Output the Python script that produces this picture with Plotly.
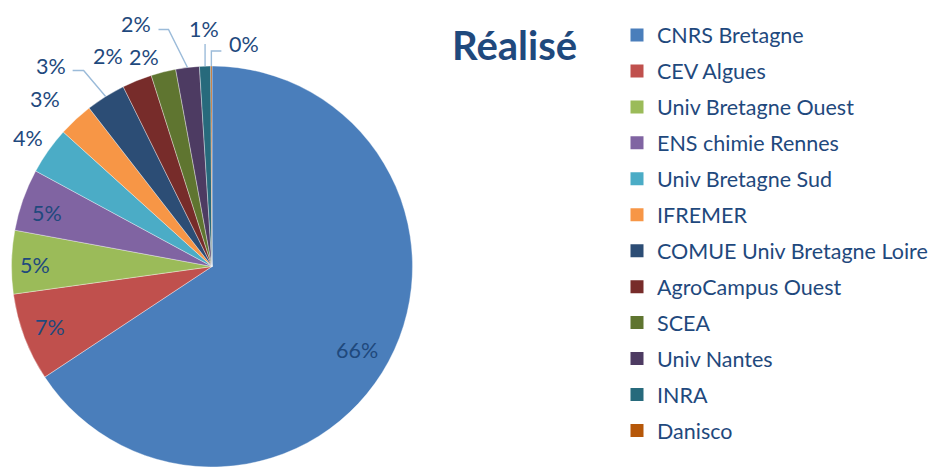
import math
import plotly.graph_objects as go

# ---------------- data ----------------
labels = ["CNRS Bretagne", "CEV Algues", "Univ Bretagne Ouest", "ENS chimie Rennes",
          "Univ Bretagne Sud", "IFREMER", "COMUE Univ Bretagne Loire", "AgroCampus Ouest",
          "SCEA", "Univ Nantes", "INRA", "Danisco"]
values = [65.7, 7.1, 5.1, 5.0, 3.8, 2.8, 3.2, 2.4, 2.0, 1.9, 0.9, 0.1]
colors = ["#4A7EBB", "#C0504D", "#9BBB59", "#8064A2", "#4BACC6", "#F79646",
          "#2C4D75", "#772C2A", "#5F7530", "#4D3B62", "#276A7C", "#B65708"]
title_text = "Réalisé"

# ---------------- layout / style ----------------
W, H = 932, 467
CX, CY, R = 212.0, 266.5, 200.5          # pie centre & radius in pixels
TXT = "#1F497D"
FONT = "Lato"
FS = 21.5
LEADER = "#9BBBD9"

# label placement per slice: (radius factor, angle shift deg) or leader style
label_style = [
    ("in", 0.835, 1.5), ("in", 0.863, 0.2), ("in", 0.883, -0.8), ("in", 0.865, -1.4),
    ("in", 1.12, -0.5), ("in", 1.18, -2.2), ("leader_left", None, None),
    ("in", 1.17, -4.4), ("in", 1.10, -4.0), ("leader_left2", None, None),
    ("leader_up", None, None), ("leader_right", None, None),
]

def px2paper(x, y):
    return x / W, 1 - y / H

def polar(theta_deg, rad):
    t = math.radians(theta_deg)
    return CX + rad * math.sin(t), CY - rad * math.cos(t)

total = sum(values)
fig = go.Figure()

fig.add_trace(go.Pie(
    labels=labels, values=values, sort=False, direction="clockwise", rotation=0,
    marker=dict(colors=colors, line=dict(color="rgba(255,255,255,0.6)", width=0.6)),
    textinfo="none", hoverinfo="label+percent", showlegend=False,
    domain=dict(x=[(CX - R) / W, (CX + R) / W], y=[0, (2 * R) / H]),
))

annotations = []
shapes = []
cum = 0.0
for lab, v, st in zip(labels, values, label_style):
    mid = (cum + v / 2) / total * 360.0
    cum += v
    pct = f"{round(v / total * 100):d}%"
    kind = st[0]
    if kind == "in":
        x, y = polar(mid + st[2], R * st[1])
        ax, ay = px2paper(x, y)
        annotations.append(dict(x=ax, y=ay, xref="paper", yref="paper", text=pct,
                                showarrow=False, xanchor="center", yanchor="middle",
                                font=dict(family=FONT, size=FS, color=TXT)))
        continue
    ex, ey = polar(mid, R)
    if kind == "leader_left":
        pts = [(ex, ey), (ex - 22, ey - 26), (ex - 33, ey - 26)]
        tx, ty, xa = ex - 38, ey - 31, "right"
    elif kind == "leader_left2":
        pts = [(ex, ey), (ex - 19, ey - 38), (ex - 29, ey - 38)]
        tx, ty, xa = ex - 34, ey - 44, "right"
    elif kind == "leader_up":
        pts = [(ex, ey), (ex, ey - 22)]
        tx, ty, xa = ex - 1, ey - 37, "center"
    else:
        pts = [(ex, ey), (ex, ey - 15), (ex + 10, ey - 15)]
        tx, ty, xa = ex + 16, ey - 22, "left"
    path = "M " + " L ".join(f"{px2paper(px, py)[0]:.5f},{px2paper(px, py)[1]:.5f}" for px, py in pts)
    shapes.append(dict(type="path", path=path, xref="paper", yref="paper",
                       line=dict(color=LEADER, width=1.4)))
    ax, ay = px2paper(tx, ty)
    annotations.append(dict(x=ax, y=ay, xref="paper", yref="paper", text=pct,
                            showarrow=False, xanchor=xa, yanchor="middle",
                            font=dict(family=FONT, size=FS, color=TXT)))

# title
tx, ty = px2paper(514, 45)
annotations.append(dict(x=tx, y=ty, xref="paper", yref="paper", text=f"<b>{title_text}</b>",
                        showarrow=False, xanchor="center", yanchor="middle",
                        font=dict(family=FONT, size=40, color=TXT)))

# legend entries (one group each so rows can be spaced)
for i, (lab, c) in enumerate(zip(labels, colors)):
    fig.add_trace(go.Scatter(x=[None], y=[None], mode="markers", name=lab,
                             legendgroup=f"g{i}", showlegend=True,
                             marker=dict(symbol="square", size=13, color=c),
                             hoverinfo="skip"))

lx, ly = px2paper(617, 14.5)
fig.update_layout(
    width=W, height=H, margin=dict(l=0, r=0, t=0, b=0, autoexpand=False),
    paper_bgcolor="white", plot_bgcolor="white",
    xaxis=dict(visible=False), yaxis=dict(visible=False),
    showlegend=True,
    legend=dict(x=lx, y=ly, xanchor="left", yanchor="top", traceorder="grouped",
                tracegroupgap=5, font=dict(family=FONT, size=FS, color=TXT),
                bgcolor="rgba(0,0,0,0)"),
    annotations=annotations, shapes=shapes,
)

fig.write_html("out.html", config={"displayModeBar": False},
               post_script="document.body.style.margin='0';document.body.style.overflow='hidden';")
